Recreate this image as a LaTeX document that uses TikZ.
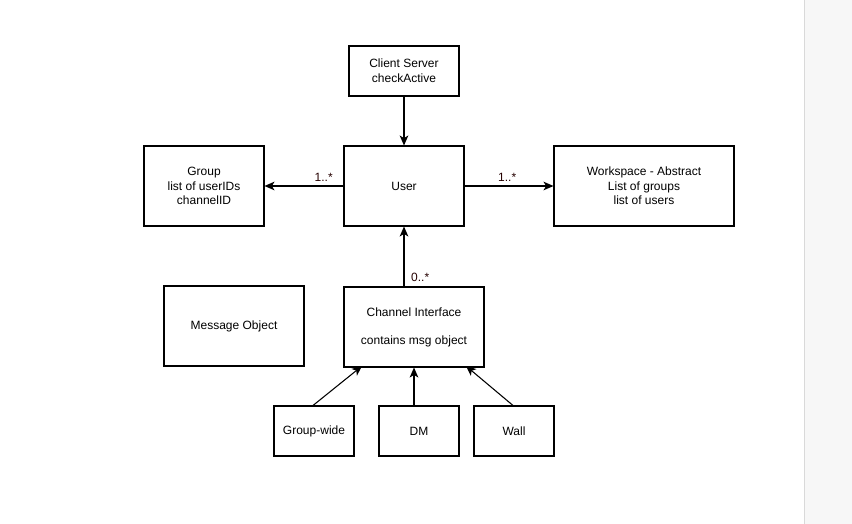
\documentclass[tikz,border=0pt]{standalone}
\usepackage{fontspec}
\setmainfont{Liberation Sans}
\usetikzlibrary{arrows.meta}
\begin{document}
\begin{tikzpicture}[x=0.75pt,y=-0.75pt,
  box/.style={draw=black,line width=0.8pt,fill=white,inner sep=0pt,align=center,font=\fontsize{9}{11}\selectfont},
  conn/.style={line width=0.8pt,-{Stealth[length=7.5pt,width=6.5pt,inset=2pt]}},
  mult/.style={font=\fontsize{9}{11}\selectfont,text=black!85!red,inner sep=1pt}]
\useasboundingbox (0,0) rectangle (852,524);
\fill[white] (0,0) rectangle (852,524);
\fill[black!3] (804,0) rectangle (852,524);
\draw[black!15,line width=1pt] (804.5,0) -- (804.5,524);
\node[box,minimum width=110*0.75pt,minimum height=50*0.75pt] (cs) at (404,71) {Client Server\\checkActive};
\node[box,minimum width=120*0.75pt,minimum height=80*0.75pt] (grp) at (204,186) {Group\\list of userIDs\\channelID};
\node[box,minimum width=120*0.75pt,minimum height=80*0.75pt] (user) at (404,186) {User};
\node[box,minimum width=180*0.75pt,minimum height=80*0.75pt] (ws) at (644,186) {Workspace - Abstract\\List of groups\\list of users};
\node[box,minimum width=140*0.75pt,minimum height=80*0.75pt] (msg) at (234,326) {Message Object};
\node[box,minimum width=140*0.75pt,minimum height=80*0.75pt,align=center,font=\fontsize{9}{21}\selectfont] (ch) at (414,327) {Channel Interface\\contains msg object};
\node[box,minimum width=80*0.75pt,minimum height=50*0.75pt] (gw) at (314,431) {Group-wide};
\node[box,minimum width=80*0.75pt,minimum height=50*0.75pt] (dm) at (419,431) {DM};
\node[box,minimum width=80*0.75pt,minimum height=50*0.75pt] (wall) at (514,431) {Wall};
\draw[conn] (cs) -- (user);
\draw[conn] (user) -- node[mult,above=2pt,pos=0.25] {1..*} (grp);
\draw[conn] (user) -- node[mult,above=2pt,pos=0.48] {1..*} (ws);
\draw[conn] (ch.north -| user.south) -- node[mult,right=4pt,pos=0.15] {0..*} (user.south);
\draw[conn] (gw.north -| 313,0) -- (362,366);
\draw[conn] (dm.north -| ch.south) -- (ch.south);
\draw[conn] (wall.north -| 513,0) -- (466,366);
\end{tikzpicture}
\end{document}
